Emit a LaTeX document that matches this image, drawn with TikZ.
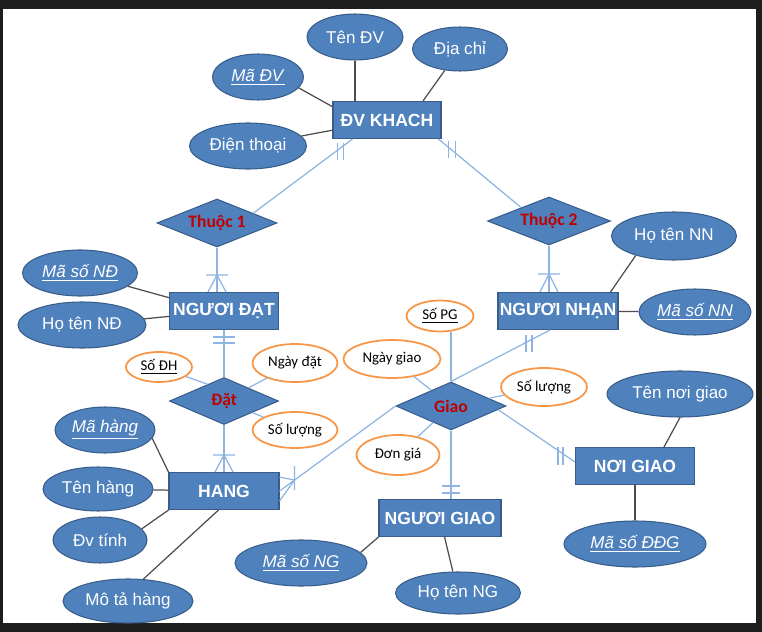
\documentclass[tikz,border=0pt]{standalone}
\usepackage{fontspec}
\setmainfont{Liberation Sans}
\newfontfamily\calibri{Carlito}
\usepackage{tikz}
\usetikzlibrary{shapes.geometric,positioning,calc}
\definecolor{erblue}{HTML}{4F81BD}
\definecolor{erdark}{HTML}{385D8A}
\definecolor{erlink}{HTML}{8EB4E3}
\definecolor{erorange}{HTML}{F79646}
\definecolor{erred}{HTML}{C00000}
\definecolor{erline}{HTML}{4D4D4D}
\definecolor{frame}{HTML}{1E1E1E}

\begin{document}
\begin{tikzpicture}[
    x=0.02cm, y=-0.02cm,
    font=\fontsize{9.7}{11}\selectfont,
    entity/.style={draw=erdark, fill=erblue, text=white, font=\fontsize{10}{12}\selectfont\bfseries, line width=0.6pt, inner sep=0pt, minimum height=0.74cm},
    relation/.style={diamond, aspect=2.5, draw=erdark, fill=erblue, text=erred, font=\calibri\fontsize{10}{12}\selectfont\bfseries, line width=0.6pt, inner sep=0pt, minimum height=0.96cm},
    attr/.style={ellipse, draw=erdark, fill=erblue, text=white, line width=0.6pt, inner sep=0pt, minimum height=0.92cm},
    relattr/.style={ellipse, draw=erorange, fill=white, text=black, font=\calibri\fontsize{8.5}{10}\selectfont, line width=1pt, inner sep=0pt, minimum height=0.76cm},
    attrline/.style={draw=erline, line width=0.7pt},
    relline/.style={draw=erlink, line width=0.7pt}
]

% frame
\fill[frame] (0,0) rectangle (762,632);
\fill[white] (3,9) rectangle (756,623);

% entities
\node[entity, minimum width=2.16cm] (dvk) at (387,120) {ĐV KHACH};
\node[entity, minimum width=2.18cm] (ndat) at (224,311) {NGƯƠI ĐẠT};
\node[entity, minimum width=2.4cm] (nnhan) at (558,311) {NGƯƠI NHẠN};
\node[entity, minimum width=2.44cm] (ngiao) at (440,518) {NGƯƠI GIAO};
\node[entity, minimum width=2.38cm] (noigiao) at (635,466) {NƠI GIAO};

% relationships
\node[relation, minimum width=2.4cm] (thuoc1) at (217,223) {Thuộc 1};
\node[relation, minimum width=2.46cm] (thuoc2) at (549,221) {Thuộc 2};
\node[relation, minimum width=2.18cm, minimum height=0.94cm, below=0.94cm of ndat] (dat) {Đặt};
\node[entity, minimum width=2.2cm, below=0.94cm of dat] (hang) {HANG};
\node[relation, minimum width=2.2cm] (giao) at (451,406) {Giao};

% ĐV KHACH attributes
\node[attr, minimum width=1.92cm] (tendv) at (355,37) {Tên ĐV};
\node[attr, minimum width=1.9cm, minimum height=0.88cm] (diachi) at (460,49) {Địa chỉ};
\node[attr, minimum width=1.82cm] (madv) at (258,77) {\underline{\textit{Mã ĐV}}};
\node[attr, minimum width=2.34cm] (dienthoai) at (248,146) {Điện thoại};

\draw[attrline] (tendv) -- (tendv |- dvk.north);
\draw[attrline] (diachi) -- ($(dvk.north)+(36,0)$);
\draw[attrline] (madv.-15) -- ($(dvk.north west)!0.15!(dvk.south west)$);
\draw[attrline] (dienthoai) -- (dvk);

% NGƯƠI ĐẠT attributes
\node[attr, minimum width=2.3cm] (masond) at (80,273) {\underline{\textit{Mã số NĐ}}};
\node[attr, minimum width=2.56cm] (hotennd) at (82,325) {Họ tên NĐ};

\draw[attrline] (masond) -- ($(ndat.north west)!0.15!(ndat.south west)$);
\draw[attrline] (hotennd) -- (ndat);

% NGƯƠI NHẠN attributes
\node[attr, minimum width=2.5cm, minimum height=0.96cm] (hotennn) at (674,236) {Họ tên NN};
\node[attr, minimum width=2.24cm] (masonn) at (695,312) {\underline{\textit{Mã số NN}}};

\draw[attrline] (hotennn.-153) -- ($(nnhan.north east)+(-8,0)$);
\draw[attrline] (masonn) -- (nnhan);

% HANG attributes
\node[attr, minimum width=2cm] (mahang) at (105,430) {\underline{\textit{Mã hàng}}};
\node[attr, minimum width=2.2cm, minimum height=0.88cm] (tenhang) at (98,489) {Tên hàng};
\node[attr, minimum width=1.88cm] (dvtinh) at (100,540) {Đv tính};
\node[attr, minimum width=2.6cm, minimum height=0.88cm] (motahang) at (128,601) {Mô tả hàng};

\draw[attrline] (mahang.-10) -- (hang.north west);
\draw[attrline] (tenhang) -- (hang);
\draw[attrline] (dvtinh.15) -- (hang.south west);
\draw[attrline] (motahang.55) -- ($(hang.south west)!0.45!(hang.south east)$);

% NGƯƠI GIAO attributes
\node[attr, minimum width=2.64cm] (masong) at (301,563) {\underline{\textit{Mã số NG}}};
\node[attr, minimum width=2.5cm, minimum height=0.84cm] (hotenng) at (458,593) {Họ tên NG};

\draw[attrline] (masong.10) -- (ngiao.south west);
\draw[attrline] (hotenng) -- (ngiao);

% NƠI GIAO attributes
\node[attr, minimum width=2.92cm] (tennoigiao) at (680,394) {Tên nơi giao};
\node[attr, minimum width=2.84cm] (masoddg) at (635,544) {\underline{\textit{Mã số ĐĐG}}};

\draw[attrline] (tennoigiao.south) -- ($(noigiao.north east)+(-31,0)$);
\draw[attrline] (masoddg) -- (noigiao);

% Đặt attributes
\node[relattr, minimum width=1.32cm, minimum height=0.6cm] (sodh) at (159,367) {\underline{Số ĐH}};
\node[relattr, minimum width=1.7cm] (ngaydat) at (295,363) {Ngày đặt};
\node[relattr, minimum width=1.7cm, minimum height=0.72cm] (soluong1) at (295,430) {Số lượng};

\draw[relline] (sodh) -- ($(dat.west)!0.7!(dat.north)$);
\draw[relline] (ngaydat) -- (dat);
\draw[relline] (soluong1) -- (dat);

% Giao attributes
\node[relattr, minimum width=1.34cm, minimum height=0.62cm] (sopg) at (440,316) {\underline{Số PG}};
\node[relattr, minimum width=1.94cm] (ngaygiao) at (392,359) {Ngày giao};
\node[relattr, minimum width=1.72cm] (soluong2) at (544,387) {Số lượng};
\node[relattr, minimum width=1.66cm, minimum height=0.8cm] (dongia) at (398,455) {Đơn giá};

\draw[relline] (sopg.south -| giao.north) -- (giao.north);
\draw[relline] (ngaygiao) -- (giao);
\draw[relline] (soluong2) -- (giao);
\draw[relline] (dongia) -- (giao);

% ĐV KHACH -- Thuộc 1 / Thuộc 2
\draw[relline] ($(dvk.south west)+(20,0)$) -- ($(thuoc1.north)!0.6!(thuoc1.east)$);
\draw[relline] ($(dvk.south west)+(5,4)$) -- ++(0,17) ($(dvk.south west)+(11,4)$) -- ++(0,17);
\draw[relline] ($(dvk.south east)+(-3,0)$) -- ($(thuoc2.north)!0.45!(thuoc2.west)$);
\draw[relline] ($(dvk.south east)+(7,2)$) -- ++(0,17) ($(dvk.south east)+(14,2)$) -- ++(0,17);

% Thuộc 1 -- NGƯƠI ĐẠT
\draw[relline] (thuoc1.south) -- (thuoc1.south |- ndat.north) coordinate (e1);
\draw[relline] ($(e1)+(-11,-17)$) -- ++(22,0) ($(e1)+(-9,0)$) -- ($(e1)+(0,-17)$) -- ($(e1)+(9,0)$);

% Thuộc 2 -- NGƯƠI NHẠN
\draw[relline] (thuoc2.south) -- (thuoc2.south |- nnhan.north) coordinate (e2);
\draw[relline] ($(e2)+(-11,-18)$) -- ++(22,0) ($(e2)+(-9,0)$) -- ($(e2)+(0,-18)$) -- ($(e2)+(9,0)$);

% NGƯƠI ĐẠT -- Đặt -- HANG
\draw[relline] (ndat.south) -- (dat.north);
\draw[relline] ($(ndat.south)+(-11,7)$) -- ++(22,0) ($(ndat.south)+(-11,13)$) -- ++(22,0);
\draw[relline] (dat.south) -- (hang.north);
\draw[relline] ($(hang.north)+(-11,-17)$) -- ++(22,0) ($(hang.north)+(-9,0)$) -- ($(hang.north)+(0,-17)$) -- ($(hang.north)+(9,0)$);

% Giao -- HANG
\draw[relline] (giao.west) -- (hang.east);
\draw[relline] ($(hang.east)+(15,-25)$) -- ++(0,24) ($(hang.east)+(0,-14)$) -- ($(hang.east)+(15,-11)$) -- ($(hang.east)+(0,10)$);

% Giao -- NGƯƠI NHẠN
\draw[relline] (giao.north) -- ($(nnhan.south)+(-8,0)$);
\draw[relline] ($(nnhan.south)+(-32,5)$) -- ++(0,17) ($(nnhan.south)+(-26,5)$) -- ++(0,17);

% Giao -- NGƯƠI GIAO
\draw[relline] (giao.south) -- (giao.south |- ngiao.north) coordinate (e5);
\draw[relline] ($(e5)+(-9,-13)$) -- ++(18,0) ($(e5)+(-9,-6)$) -- ++(18,0);

% Giao -- NƠI GIAO
\draw[relline] ($(giao.east)!0.15!(giao.south)$) -- ($(noigiao.west)+(0,-4)$);
\draw[relline] ($(noigiao.west)+(-17,-19)$) -- ++(0,18) ($(noigiao.west)+(-12,-19)$) -- ++(0,18);

\end{tikzpicture}
\end{document}
